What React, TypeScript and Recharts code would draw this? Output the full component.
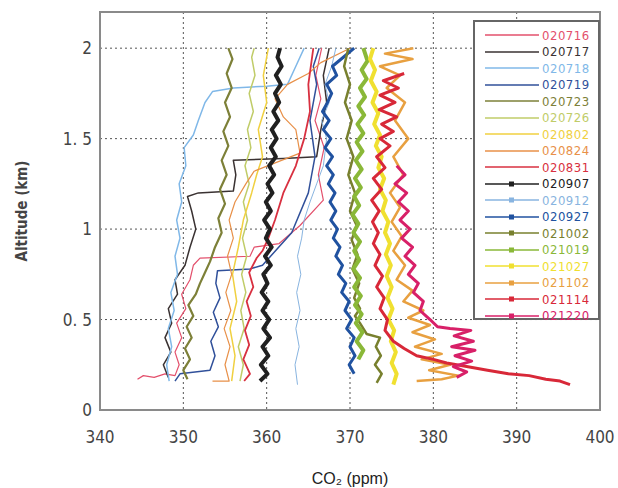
import React from 'react';
import { ScatterChart, Scatter, XAxis, YAxis, CartesianGrid, ReferenceArea } from 'recharts';

type Pt = [number, number]; // [CO2 ppm, altitude km]

const flightDates = [
  '020716', '020717', '020718', '020719', '020723', '020726', '020802', '020824', '020831',
  '020907', '020912', '020927', '021002', '021019', '021027', '021102', '021114', '021220',
];

const p020716: Pt[] = [[344.5,0.17],[345.2,0.19],[346.5,0.18],[347.8,0.2],[349,0.19],[349.5,0.25],[349,0.32],[349.8,0.4],[349.2,0.48],[350.3,0.56],[349.8,0.64],[350.8,0.72],[351.2,0.8],[352,0.84],[358,0.85],[358.5,0.9],[361.5,0.92],[364,1.02],[366.8,1.16],[366.2,1.3],[366.9,1.45],[365.8,1.6],[366.5,1.72],[365.9,1.85],[366.6,2.0]];
const p020717: Pt[] = [[348.2,0.18],[347.6,0.25],[348.5,0.32],[347.8,0.4],[348.6,0.48],[348.2,0.56],[349.3,0.64],[349,0.72],[350.2,0.8],[350.8,0.9],[351.5,1.0],[351,1.1],[350.5,1.18],[351.8,1.2],[356,1.21],[356.3,1.3],[356,1.38],[362,1.39],[366,1.4],[366.5,1.55],[367.2,1.7],[366.8,1.85],[367.5,2.0]];
const p020718: Pt[] = [[348.3,0.16],[348,0.25],[348.6,0.35],[348.2,0.45],[348.9,0.55],[348.5,0.65],[349.3,0.75],[349,0.85],[349.6,0.95],[349.2,1.05],[349.8,1.15],[349.5,1.25],[350.3,1.35],[350.1,1.45],[351.2,1.52],[351.8,1.6],[352.6,1.7],[353.5,1.76],[356,1.78],[360,1.79],[362.5,1.8],[363.5,1.9],[364.5,2.0]];
const p020719: Pt[] = [[349,0.16],[349.6,0.2],[353.2,0.22],[353.8,0.3],[353.3,0.38],[354.2,0.46],[353.6,0.54],[354.4,0.62],[353.9,0.7],[354.1,0.77],[358,0.78],[359.5,0.8],[363,0.98],[365,1.2],[365.8,1.4],[365.2,1.6],[366,1.8],[365.6,1.9],[366.3,2.0]];
const p020723: Pt[] = [[350.5,0.17],[350,0.22],[350.8,0.28],[350.2,0.34],[351,0.4],[350.4,0.46],[351.2,0.52],[350.6,0.58],[351.5,0.64],[352,0.7],[352.6,0.76],[353.2,0.82],[353.8,0.9],[354.6,0.98],[354.2,1.06],[355,1.14],[354.4,1.22],[355.2,1.3],[354.6,1.38],[355.4,1.46],[354.8,1.54],[355.6,1.62],[355,1.7],[355.8,1.78],[355.2,1.86],[355.9,1.94],[355.4,2.0]];
const p020726: Pt[] = [[356.8,0.16],[357.2,0.25],[356.6,0.35],[357.3,0.45],[356.9,0.55],[357.5,0.65],[357,0.75],[357.6,0.85],[357.1,0.95],[357.7,1.05],[357.2,1.15],[357.9,1.25],[357.4,1.35],[358.1,1.45],[357.7,1.55],[358.4,1.65],[357.9,1.75],[358.6,1.85],[358.2,1.95],[358.5,2.0]];
const p020802: Pt[] = [[355.8,0.16],[356.2,0.3],[355.6,0.45],[356.4,0.6],[355.9,0.75],[356.6,0.9],[357.2,1.05],[358.2,1.2],[358.8,1.3],[359.5,1.4],[359,1.55],[360,1.7],[359.6,1.85],[360.2,2.0]];
const p020824: Pt[] = [[353.5,0.16],[355.5,0.16],[355,0.25],[355.6,0.35],[354.9,0.45],[355.7,0.55],[355.1,0.65],[355.8,0.75],[355.3,0.85],[356,0.95],[355.5,1.05],[356.2,1.15],[357.5,1.25],[358.5,1.32],[364,1.42],[363.5,1.55],[362,1.62],[361,1.72],[362.5,1.8],[365,1.86],[366.5,1.92],[370,2.0]];
const p020831: Pt[] = [[357.3,0.16],[358,0.2],[357.2,0.28],[357.9,0.36],[357.4,0.44],[358.1,0.52],[357.6,0.6],[358.4,0.68],[357.9,0.76],[358.8,0.84],[359.5,0.88],[360.2,0.95],[361,1.05],[362,1.2],[363.5,1.35],[364.5,1.5],[365.2,1.65],[365,1.8],[365.6,2.0]];
const p020907: Pt[] = [[359.2,0.16],[360.1,0.2],[359.3,0.25],[360.2,0.3],[359.5,0.35],[360.4,0.4],[359.6,0.45],[360.3,0.5],[359.5,0.55],[360.2,0.6],[359.4,0.65],[360.1,0.7],[359.6,0.75],[360.5,0.8],[359.8,0.85],[360.6,0.9],[359.9,0.95],[360.4,1.0],[359.7,1.05],[360.5,1.1],[359.9,1.15],[360.7,1.2],[360.1,1.25],[360.9,1.3],[360.3,1.35],[361.1,1.4],[360.5,1.45],[361.2,1.5],[360.6,1.55],[361.4,1.6],[360.8,1.65],[361.5,1.7],[361,1.75],[361.7,1.8],[361.1,1.85],[361.8,1.9],[361.3,1.95],[361.6,2.0]];
const p020912: Pt[] = [[363.7,0.14],[363.4,0.25],[363.9,0.35],[363.5,0.45],[364,0.55],[363.6,0.65],[364.1,0.75],[363.7,0.85],[364.2,0.95],[364.5,1.05],[365.2,1.15],[366,1.25],[366.8,1.35],[367.2,1.5],[366.6,1.6],[367.5,1.7],[367,1.8],[367.8,1.9],[368.3,2.0]];
const p020927: Pt[] = [[370.5,0.2],[369.9,0.25],[370.6,0.3],[370,0.35],[370.5,0.4],[369.6,0.45],[370.2,0.5],[369.4,0.55],[369.9,0.6],[369,0.65],[369.5,0.7],[368.6,0.75],[369.1,0.8],[368.3,0.85],[368.8,0.9],[368,0.95],[368.5,1.0],[367.7,1.05],[368.3,1.1],[367.6,1.15],[368.2,1.2],[367.4,1.25],[368,1.3],[367.2,1.35],[367.9,1.4],[367,1.45],[367.7,1.5],[366.8,1.55],[367.5,1.6],[366.7,1.65],[367.3,1.7],[367.8,1.75],[367.2,1.8],[368.4,1.85],[367.9,1.9],[369.2,1.95],[370.5,2.0]];
const p021002: Pt[] = [[373.2,0.15],[373.8,0.2],[373,0.25],[373.7,0.3],[373.1,0.35],[373.6,0.4],[372,0.42],[371.2,0.48],[370.6,0.52],[371.2,0.56],[370.5,0.62],[371.1,0.7],[370.3,0.78],[370.9,0.86],[370.2,0.94],[370.8,1.02],[370,1.1],[370.6,1.2],[369.8,1.3],[370.4,1.4],[369.6,1.5],[370.2,1.6],[369.4,1.7],[370,1.8],[369.3,1.9],[369.8,2.0]];
const p021019: Pt[] = [[371,0.28],[371.6,0.33],[370.8,0.38],[371.5,0.43],[370.7,0.48],[371.4,0.53],[370.6,0.58],[371.3,0.63],[370.5,0.68],[371.2,0.73],[370.4,0.78],[371.1,0.83],[370.5,0.88],[371.2,0.93],[370.4,0.98],[371,1.03],[370.3,1.08],[371.1,1.13],[370.5,1.18],[371.3,1.23],[370.6,1.28],[371.4,1.33],[370.7,1.38],[371.5,1.43],[370.8,1.48],[371.6,1.53],[370.9,1.58],[371.7,1.63],[371,1.68],[371.8,1.73],[371.2,1.78],[372,1.83],[371.4,1.88],[372.1,1.93],[371.6,2.0]];
const p021027: Pt[] = [[375.2,0.14],[375.6,0.2],[375,0.26],[375.5,0.32],[374.9,0.38],[375.3,0.44],[374.6,0.5],[375.1,0.56],[374.5,0.62],[375,0.68],[374.4,0.74],[374.9,0.8],[374.3,0.86],[374.8,0.92],[374.2,0.98],[374.6,1.04],[373.9,1.1],[374.3,1.16],[373.6,1.22],[374.1,1.28],[373.4,1.34],[373.8,1.4],[373.1,1.46],[373.6,1.52],[372.9,1.58],[373.4,1.64],[372.7,1.7],[373.2,1.76],[372.5,1.82],[373,1.88],[372.4,1.94],[372.8,2.0]];
const p021102: Pt[] = [[378,0.16],[381,0.17],[383,0.19],[379.5,0.22],[382,0.25],[378.6,0.28],[381,0.31],[377.8,0.35],[380.2,0.39],[377.5,0.43],[379.6,0.47],[377,0.51],[378.8,0.55],[376.4,0.6],[377.5,0.66],[375.6,0.72],[376.6,0.8],[375.2,0.88],[376.2,0.96],[375,1.04],[376,1.12],[374.8,1.2],[376.4,1.3],[375.2,1.4],[377,1.5],[375.4,1.6],[376.6,1.7],[374.4,1.78],[376,1.85],[373.6,1.9],[377.5,1.94],[374.2,1.97],[377.6,2.0]];
const p021114: Pt[] = [[376.5,1.86],[374,1.82],[375.8,1.78],[373.6,1.74],[375.4,1.7],[373.5,1.66],[375.6,1.62],[373.8,1.58],[375.2,1.54],[373.6,1.5],[374.8,1.46],[373.2,1.4],[374.2,1.34],[372.8,1.28],[373.8,1.22],[372.6,1.16],[373.5,1.1],[372.7,1.04],[373.4,0.98],[372.8,0.92],[373.6,0.86],[373,0.8],[373.9,0.74],[373.2,0.68],[374.1,0.62],[373.6,0.56],[374.5,0.5],[374.2,0.44],[375.2,0.38],[376.5,0.34],[378,0.3],[380,0.28],[381.6,0.26],[384,0.24],[386.5,0.22],[389,0.2],[391.5,0.19],[393.5,0.17],[395.2,0.16],[396.4,0.14]];
const p021220: Pt[] = [[375.6,1.35],[376.6,1.3],[375.4,1.25],[376.8,1.2],[375.8,1.15],[377,1.1],[376,1.05],[377.2,1.0],[376.2,0.95],[377.5,0.9],[376.6,0.85],[377.8,0.8],[377,0.75],[378.2,0.7],[377.6,0.65],[378.8,0.6],[378.4,0.55],[379.6,0.5],[380.5,0.46],[382,0.45],[384.5,0.44],[382.5,0.41],[384.8,0.38],[382.2,0.35],[385,0.33],[382.6,0.3],[384.6,0.27],[382.4,0.24],[384,0.21],[382.8,0.18]];

const profiles: Pt[][] = [
  p020716, p020717, p020718, p020719, p020723, p020726, p020802, p020824, p020831,
  p020907, p020912, p020927, p021002, p021019, p021027, p021102, p021114, p021220,
];

const colors = [
  '#e3506c', '#3a3232', '#80b8e8', '#30509a', '#7d8038', '#c0cc68', '#f0d040', '#e89048', '#d83040',
  '#202020', '#88b4e0', '#2052a0', '#78802e', '#8ab838', '#f0e030', '#e8a040', '#d82838', '#d82068',
];
const widths = [1.2, 1.5, 1.5, 1.5, 2.2, 1.5, 1.5, 1.2, 1.8, 4, 1, 3, 2.5, 4, 4, 2.5, 3, 3];

const xTicks = [340, 350, 360, 370, 380, 390, 400];
const yTicks = [0, 0.5, 1, 1.5, 2];

const tickFont = { fontFamily: 'DejaVu Sans Condensed, Liberation Sans Narrow, sans-serif', fontSize: 17, fill: '#444' };

const Blank = () => <g />;

export default function App() {
  return (
    <div style={{ position: 'absolute', left: 0, top: 0, width: 618, height: 488, background: '#fff' }}>
      <ScatterChart width={618} height={488} margin={{ top: 12, right: 18, bottom: 0, left: 0 }}>
        <CartesianGrid stroke="#555" strokeDasharray="2 3" />
        <XAxis
          type="number"
          dataKey="x"
          domain={[340, 400]}
          ticks={xTicks}
          height={78}
          tickLine={false}
          axisLine={false}
          tickMargin={15}
          tick={tickFont}
          label={{ value: 'CO₂ (ppm)', position: 'insideBottom', offset: 4, fontFamily: 'Liberation Sans, Arial, sans-serif', fontSize: 16, fill: '#222' }}
        />
        <YAxis
          type="number"
          dataKey="y"
          domain={[0, 2.2]}
          ticks={yTicks}
          width={100}
          tickLine={false}
          axisLine={false}
          tickMargin={2}
          tick={tickFont}
          tickFormatter={(v: number) => String(v).replace('.', '. ')}
          label={{ value: 'Altitude (km)', angle: -90, position: 'center', dx: -28, fontFamily: 'DejaVu Sans Condensed, sans-serif', fontSize: 15, fontWeight: 'bold', fill: '#444' }}
        />
        <ReferenceArea x1={340} x2={400} y1={0} y2={2.2} fill="none" stroke="#8a8a8a" strokeWidth={2} />
        {profiles.map((pts, i) => (
          <Scatter
            key={flightDates[i]}
            name={flightDates[i]}
            data={pts.map(([x, y]) => ({ x, y }))}
            fill={colors[i]}
            line={{ strokeWidth: widths[i], strokeLinejoin: 'round' }}
            shape={Blank}
            isAnimationActive={false}
          />
        ))}
      </ScatterChart>
      <div
        style={{
          position: 'absolute', left: 473, top: 20, width: 123, height: 296,
          border: '2px solid #666', background: '#fff', boxSizing: 'content-box',
          fontFamily: 'DejaVu Sans Condensed, sans-serif', fontSize: 13, letterSpacing: 0.5,
        }}
      >
        {flightDates.map((d, i) => (
          <div key={d} style={{ position: 'absolute', left: 10, top: 6 + i * 16.5, height: 14, display: 'flex', alignItems: 'center' }}>
            <svg width={54} height={14}>
              <line x1={0} y1={7} x2={54} y2={7} stroke={colors[i]} strokeWidth={1.5} />
              {i >= 9 && <rect x={24} y={4.5} width={5} height={5} fill={colors[i]} />}
            </svg>
            <span style={{ color: colors[i], marginLeft: 3 }}>{d}</span>
          </div>
        ))}
      </div>
    </div>
  );
}
